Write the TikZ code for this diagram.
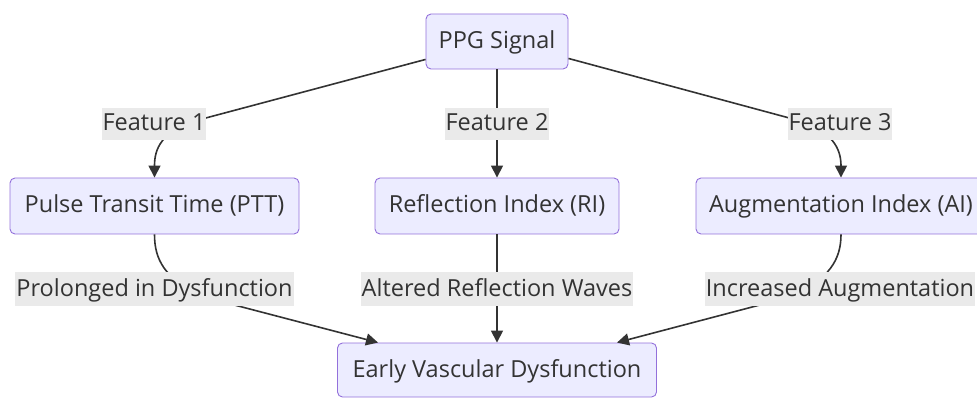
\documentclass[tikz,border=0pt]{standalone}
\usepackage{fontspec}
\setmainfont{Open Sans}
\usetikzlibrary{arrows.meta}
\definecolor{nodefill}{HTML}{ECECFF}
\definecolor{nodeline}{HTML}{9370DB}
\definecolor{txt}{HTML}{333333}
\definecolor{lblbg}{HTML}{EAEAEA}
\definecolor{edge}{HTML}{333333}
\tikzset{
  box/.style={draw=nodeline, fill=nodefill, rounded corners=5pt, line width=0.9pt,
    text=txt, font=\fontsize{23.5}{28}\selectfont, minimum height=56pt, inner sep=0pt,
    text height=19.5pt, text depth=5.5pt},
  lbl/.style={fill=lblbg, text=txt, font=\fontsize{23.5}{28}\selectfont,
    inner xsep=1pt, inner ysep=0pt, minimum height=32pt, text height=19.5pt, text depth=5.5pt},
  conn/.style={draw=edge, line width=1.6pt},
  arr/.style={conn, -{Triangle[length=12pt,width=12pt]}},
}
\begin{document}
\begin{tikzpicture}[x=1pt,y=-1pt]
\useasboundingbox (0,0) rectangle (977,398);
% nodes
\node[box, minimum width=142pt, minimum height=55pt] (ppg) at (497,41.5) {PPG Signal};
\node[box, minimum width=289pt] (ptt) at (154.5,206) {Pulse Transit Time (PTT)};
\node[box, minimum width=244pt] (ri) at (497,206) {Reflection Index (RI)};
\node[box, minimum width=290pt] (ai) at (841,206) {Augmentation Index (AI)};
\node[box, minimum width=319pt, minimum height=54pt] (evd) at (497,370) {Early Vascular Dysfunction};
% bend points
\coordinate (b1) at (202,119);
\coordinate (b3) at (793,119);
\coordinate (c1) at (200,296);
\coordinate (c3) at (794,296);
% connectors
\draw[arr] ([yshift=10pt]ppg.south west) -- (b1) .. controls (160,130) and (154.5,150) .. (ptt.north);
\draw[arr] (ppg.south) -- (ri.north);
\draw[arr] ([yshift=11pt]ppg.south east) -- (b3) .. controls (834,130) and (841,150) .. (ai.north);
\draw[arr] (ptt.south) .. controls (154.5,260) and (165,278) .. (c1) -- ([xshift=-119pt]evd.north);
\draw[arr] (ri.south) -- (evd.north);
\draw[arr] (ai.south) .. controls (841,260) and (829,278) .. (c3) -- ([xshift=120pt]evd.north);
% labels
\node[lbl] (l1) at (154,124) {Feature 1};
\node[lbl] (l2) at (497,124) {Feature 2};
\node[lbl] (l3) at (840,124) {Feature 3};
\node[lbl, minimum height=34pt] (l4) at (154.5,289) {Prolonged in Dysfunction};
\node[lbl, minimum height=34pt] (l5) at (497,289) {Altered Reflection Waves};
\node[lbl, minimum height=34pt] (l6) at (840,289) {Increased Augmentation};
\end{tikzpicture}
\end{document}
